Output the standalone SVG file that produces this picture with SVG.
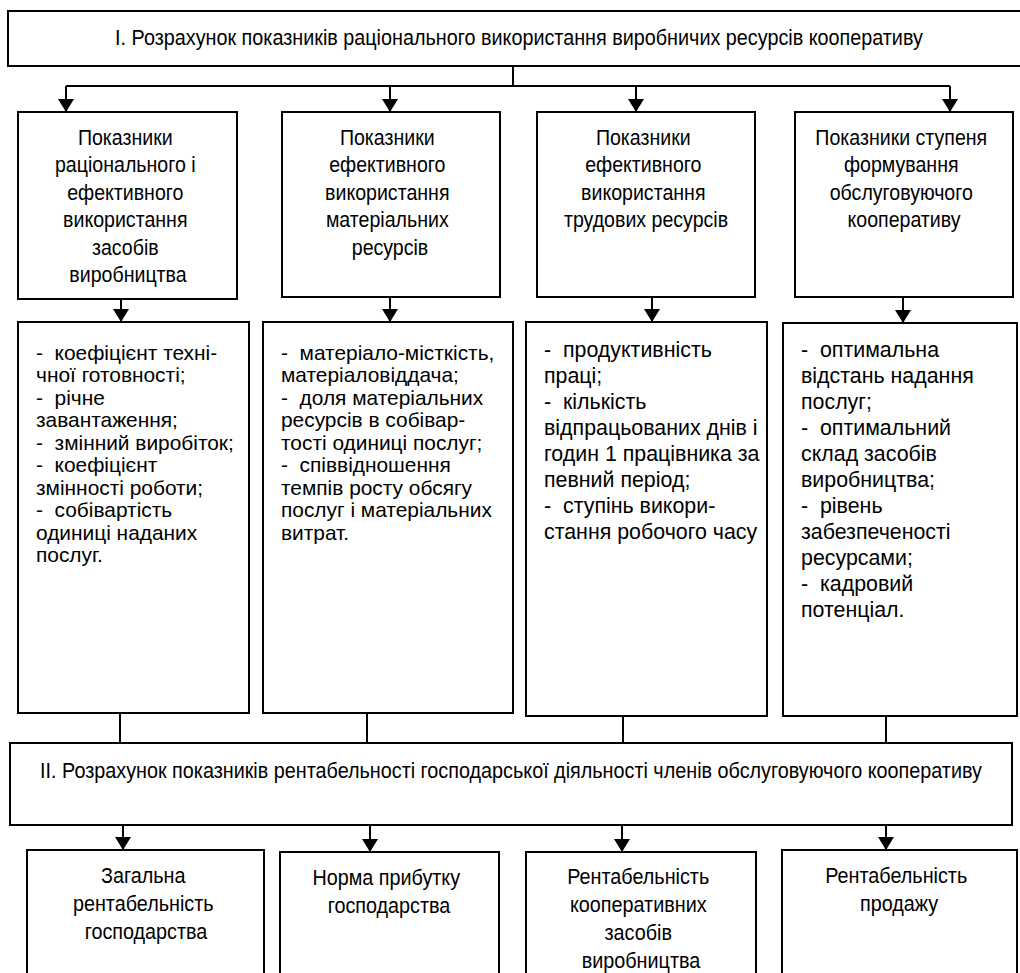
<svg xmlns="http://www.w3.org/2000/svg" width="1020" height="973" viewBox="0 0 1020 973">
<style>
  .box { fill: #fff; stroke: #000; stroke-width: 2; }
  .ln { fill: none; stroke: #000; stroke-width: 2; }
  .t { font-family: "Liberation Sans", Arial, sans-serif; font-size: 22px; fill: #000; }
  .s { font-size: 23px; }
  .n { font-size: 20px; }
  .c { text-anchor: middle; }
</style>
<defs>
  <marker id="ah" viewBox="0 0 13 16" refX="13" refY="8" markerWidth="13" markerHeight="16" markerUnits="userSpaceOnUse" orient="auto">
    <path d="M0,0 L13,8 L0,16 z" fill="#000"/>
  </marker>
</defs>
<rect width="1020" height="973" fill="#fff"/>

<g id="connectors">
  <path class="ln" d="M513,66 V86 M66,86 H950"/>
  <path class="ln" d="M66,86 V112" marker-end="url(#ah)"/>
  <path class="ln" d="M390,86 V112" marker-end="url(#ah)"/>
  <path class="ln" d="M636,86 V112" marker-end="url(#ah)"/>
  <path class="ln" d="M950,86 V112" marker-end="url(#ah)"/>

  <path class="ln" d="M121,299 V322" marker-end="url(#ah)"/>
  <path class="ln" d="M390,297 V322" marker-end="url(#ah)"/>
  <path class="ln" d="M652,297 V322" marker-end="url(#ah)"/>
  <path class="ln" d="M903,297 V323" marker-end="url(#ah)"/>

  <path class="ln" d="M120,713 V743 M367,713 V743 M623,716 V743 M886,716 V743"/>

  <path class="ln" d="M123,825 V850" marker-end="url(#ah)"/>
  <path class="ln" d="M370,825 V852" marker-end="url(#ah)"/>
  <path class="ln" d="M622,825 V852" marker-end="url(#ah)"/>
  <path class="ln" d="M886,825 V850" marker-end="url(#ah)"/>
</g>

<g id="node-top">
  <rect class="box" x="8" y="11" width="1014" height="55"/>
  <text class="t c" transform="translate(519,0) scale(0.9,1)"><tspan x="0" y="45">I. Розрахунок показників раціонального використання виробничих ресурсів кооперативу</tspan></text>
</g>

<g id="node-h1">
  <rect class="box" x="18" y="112" width="219" height="187"/>
  <text class="t c" transform="translate(128,0) scale(0.89,1)">
    <tspan x="0" y="145">Показники</tspan>
    <tspan x="0" y="172.5">раціонального і</tspan>
    <tspan x="0" y="200">ефективного</tspan>
    <tspan x="0" y="227.5">використання</tspan>
    <tspan x="0" y="255">засобів</tspan>
    <tspan x="0" y="282.5">виробництва</tspan>
  </text>
</g>
<g id="node-h2">
  <rect class="box" x="282" y="112" width="218" height="185"/>
  <text class="t c" transform="translate(390,0) scale(0.89,1)">
    <tspan x="0" y="145">Показники</tspan>
    <tspan x="0" y="172.5">ефективного</tspan>
    <tspan x="0" y="200">використання</tspan>
    <tspan x="0" y="227.5">матеріальних</tspan>
    <tspan x="0" y="255">ресурсів</tspan>
  </text>
</g>
<g id="node-h3">
  <rect class="box" x="537" y="112" width="218" height="185"/>
  <text class="t c" transform="translate(646,0) scale(0.89,1)">
    <tspan x="0" y="145">Показники</tspan>
    <tspan x="0" y="172.5">ефективного</tspan>
    <tspan x="0" y="200">використання</tspan>
    <tspan x="0" y="227.5">трудових ресурсів</tspan>
  </text>
</g>
<g id="node-h4">
  <rect class="box" x="795" y="112" width="218" height="185"/>
  <text class="t c" transform="translate(904,0) scale(0.89,1)">
    <tspan x="0" y="145">Показники ступеня</tspan>
    <tspan x="0" y="172.5">формування</tspan>
    <tspan x="0" y="200">обслуговуючого</tspan>
    <tspan x="0" y="227.5">кооперативу</tspan>
  </text>
</g>

<g id="node-l1">
  <rect class="box" x="18" y="322" width="231" height="391"/>
  <text class="t n" transform="translate(36,0) scale(1.045,1)">
    <tspan x="0" y="360">-&#160; коефіцієнт техні-</tspan>
    <tspan x="0" y="382.5">чної готовності;</tspan>
    <tspan x="0" y="405">-&#160; річне</tspan>
    <tspan x="0" y="427.5">завантаження;</tspan>
    <tspan x="0" y="450">-&#160; змінний виробіток;</tspan>
    <tspan x="0" y="472.5">-&#160; коефіцієнт</tspan>
    <tspan x="0" y="495">змінності роботи;</tspan>
    <tspan x="0" y="517.5">-&#160; собівартість</tspan>
    <tspan x="0" y="540">одиниці наданих</tspan>
    <tspan x="0" y="562.5">послуг.</tspan>
  </text>
</g>
<g id="node-l2">
  <rect class="box" x="263" y="322" width="250" height="391"/>
  <text class="t n" transform="translate(281,0) scale(1.045,1)">
    <tspan x="0" y="360">-&#160; матеріало-місткість,</tspan>
    <tspan x="0" y="382.5">матеріаловіддача;</tspan>
    <tspan x="0" y="405">-&#160; доля матеріальних</tspan>
    <tspan x="0" y="427.5">ресурсів в собівар-</tspan>
    <tspan x="0" y="450">тості одиниці послуг;</tspan>
    <tspan x="0" y="472.5">-&#160; співвідношення</tspan>
    <tspan x="0" y="495">темпів росту обсягу</tspan>
    <tspan x="0" y="517.5">послуг і матеріальних</tspan>
    <tspan x="0" y="540">витрат.</tspan>
  </text>
</g>
<g id="node-l3">
  <rect class="box" x="526" y="322" width="241" height="394"/>
  <text class="t s" transform="translate(544,0) scale(0.93,1)">
    <tspan x="0" y="357">-&#160; продуктивність</tspan>
    <tspan x="0" y="383">праці;</tspan>
    <tspan x="0" y="409">-&#160; кількість</tspan>
    <tspan x="0" y="435">відпрацьованих днів і</tspan>
    <tspan x="0" y="461">годин 1 працівника за</tspan>
    <tspan x="0" y="487">певний період;</tspan>
    <tspan x="0" y="513">-&#160; ступінь викори-</tspan>
    <tspan x="0" y="539">стання робочого часу</tspan>
  </text>
</g>
<g id="node-l4">
  <rect class="box" x="783" y="323" width="234" height="393"/>
  <text class="t s" transform="translate(801,0) scale(0.93,1)">
    <tspan x="0" y="357">-&#160; оптимальна</tspan>
    <tspan x="0" y="383">відстань надання</tspan>
    <tspan x="0" y="409">послуг;</tspan>
    <tspan x="0" y="435">-&#160; оптимальний</tspan>
    <tspan x="0" y="461">склад засобів</tspan>
    <tspan x="0" y="487">виробництва;</tspan>
    <tspan x="0" y="513">-&#160; рівень</tspan>
    <tspan x="0" y="539">забезпеченості</tspan>
    <tspan x="0" y="565">ресурсами;</tspan>
    <tspan x="0" y="591">-&#160; кадровий</tspan>
    <tspan x="0" y="617">потенціал.</tspan>
  </text>
</g>

<g id="node-second">
  <rect class="box" x="10" y="743" width="1002" height="82"/>
  <text class="t c" transform="translate(511,0) scale(0.9,1)"><tspan x="0" y="778">II. Розрахунок показників рентабельності господарської діяльності членів обслуговуючого кооперативу</tspan></text>
</g>

<g id="node-b1">
  <rect class="box" x="27" y="850" width="237" height="135"/>
  <text class="t c" transform="translate(146,0) scale(0.9,1)">
    <tspan x="0" y="883">Загальна</tspan>
    <tspan x="0" y="911">рентабельність</tspan>
    <tspan x="0" y="939">господарства</tspan>
  </text>
</g>
<g id="node-b2">
  <rect class="box" x="280" y="852" width="219" height="133"/>
  <text class="t c" transform="translate(389,0) scale(0.9,1)">
    <tspan x="0" y="885">Норма прибутку</tspan>
    <tspan x="0" y="913">господарства</tspan>
  </text>
</g>
<g id="node-b3">
  <rect class="box" x="526" y="852" width="230" height="133"/>
  <text class="t c" transform="translate(641,0) scale(0.9,1)">
    <tspan x="0" y="884">Рентабельність</tspan>
    <tspan x="0" y="912">кооперативних</tspan>
    <tspan x="0" y="940">засобів</tspan>
    <tspan x="0" y="968">виробництва</tspan>
  </text>
</g>
<g id="node-b4">
  <rect class="box" x="782" y="850" width="235" height="135"/>
  <text class="t c" transform="translate(899,0) scale(0.9,1)">
    <tspan x="0" y="883">Рентабельність</tspan>
    <tspan x="0" y="911">продажу</tspan>
  </text>
</g>
</svg>
